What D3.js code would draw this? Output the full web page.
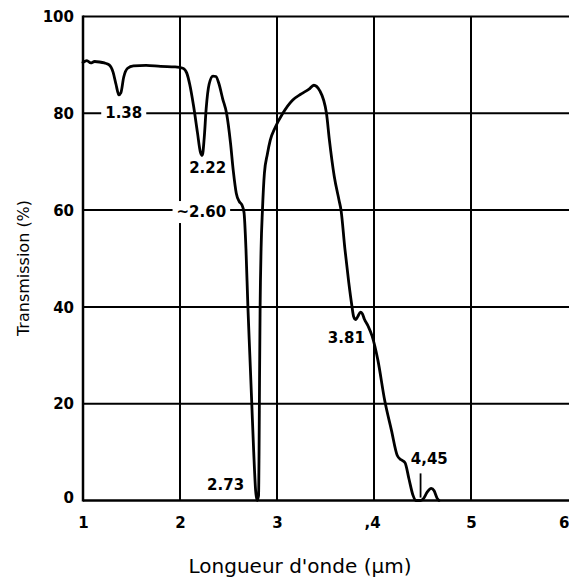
<!DOCTYPE html>
<html>
<head>
<meta charset="utf-8">
<script src="https://cdn.jsdelivr.net/npm/d3@7"></script>
<style>
  html, body { margin: 0; padding: 0; background: #fff; }
  svg { display: block; }
</style>
</head>
<body>
<svg id="chart" width="569" height="587"></svg>
<script>
// ---- data ----
const wavelength = [1.00,1.04,1.08,1.12,1.17,1.22,1.27,1.31,1.34,1.37,1.39,1.42,1.46,1.52,1.65,1.80,1.95,2.03,2.07,2.10,2.14,2.18,2.21,2.23,2.25,2.27,2.30,2.34,2.37,2.40,2.44,2.48,2.52,2.55,2.58,2.61,2.64,2.66,2.68,2.70,2.72,2.74,2.76,2.78,2.795,2.81,2.815,2.82,2.826,2.836,2.85,2.87,2.90,2.93,2.98,3.06,3.16,3.25,3.33,3.38,3.44,3.51,3.54,3.59,3.64,3.66,3.70,3.74,3.77,3.79,3.81,3.83,3.86,3.88,3.90,3.94,3.98,4.04,4.11,4.18,4.24,4.28,4.32,4.36,4.40,4.43,4.48,4.51,4.55,4.59,4.62,4.65,4.67];
const transmission = [90.5,90.9,90.4,90.7,90.6,90.4,90.0,88.5,86.0,83.8,84.2,87.5,89.3,89.8,89.9,89.7,89.6,89.3,88.3,86.0,81.5,76.0,72.0,71.3,75.0,81.0,86.0,87.7,87.6,86.2,83.0,80.0,74.0,68.0,63.5,61.8,61.0,59.5,52.0,40.0,30.0,20.0,10.0,2.0,0.0,1.0,10,25,40,52,60,67.6,71.5,74.4,77.0,80.0,82.7,84.0,85.0,85.8,84.7,80.0,74.5,67.0,62.0,60.0,52.0,45.0,40.5,38.0,37.4,37.9,38.9,38.6,37.5,36.0,34.0,29.0,20.7,14.5,9.3,8.4,7.8,4.5,1.2,0,0,0.4,1.8,2.5,2.0,0.5,0];

const xTicks = [1,2,3,4,5,6];
const xTickLabels = ["1","2","3",",4","5","6"];
const yTicks = [0,20,40,60,80,100];
const yTickLabels = ["0","20","40","60","80","100"];

// peak annotations (label, wavelength position, transmission position)
const annText = ["1.38","2.22","~2.60","2.73","3.81","4,45"];
const annX    = [1.42, 2.285, 2.22, 2.47, 3.715, 4.57];
const annY    = [80, 68.6, 59.6, 3.1, 33.6, 8.5];

const xTitle = "Longueur d'onde (\u00b5m)";
const yTitle = "Transmission (%)";

// ---- drawing ----
const svg = d3.select("#chart");
const x = d3.scaleLinear().domain([1, 6]).range([83, 568]);
const y = d3.scaleLinear().domain([0, 100]).range([500.5, 16.5]);
const FONT = "DejaVu Sans, sans-serif";

// grid
const g = svg.append("g").attr("stroke", "#000").attr("stroke-width", 2);
g.selectAll("line.v").data(xTicks.filter(d => d > 1 && d < 6)).join("line")
  .attr("x1", d => x(d)).attr("x2", d => x(d))
  .attr("y1", y(100)).attr("y2", y(0));
g.selectAll("line.h").data(yTicks.filter(d => d > 0 && d < 100)).join("line")
  .attr("x1", x(1)).attr("x2", 569)
  .attr("y1", d => y(d)).attr("y2", d => y(d));
// frame
g.append("line").attr("x1", x(1)).attr("x2", 569).attr("y1", y(100)).attr("y2", y(100));
g.append("line").attr("x1", x(1)).attr("x2", 569).attr("y1", y(0)).attr("y2", y(0)).attr("stroke-width", 2.5);
g.append("line").attr("x1", x(1)).attr("x2", x(1)).attr("y1", y(100) - 1).attr("y2", y(0) + 1).attr("stroke-width", 2.5);

// annotations with white backing (breaks grid lines like the original)
const ann = svg.append("g").attr("font-family", FONT).attr("font-weight", "bold").attr("font-size", 15);
const annG = ann.selectAll("g").data(annText).join("g");
annG.each(function(t, i) {
  const gg = d3.select(this);
  const txt = gg.append("text")
    .attr("x", x(annX[i])).attr("y", y(annY[i]))
    .attr("text-anchor", "middle").attr("dominant-baseline", "central")
    .text(t);
  const b = txt.node().getBBox();
  gg.insert("rect", "text")
    .attr("x", b.x - 4).attr("y", b.y - 2)
    .attr("width", b.width + 8).attr("height", b.height + 4)
    .attr("fill", "#fff");
});
// small pointer for 4,45
svg.append("line").attr("stroke", "#000").attr("stroke-width", 1.8)
  .attr("x1", x(4.48)).attr("x2", x(4.48)).attr("y1", y(5.6)).attr("y2", y(0.6));

// curve
const line = d3.line().x(d => x(d[0])).y(d => y(d[1])).curve(d3.curveMonotoneX);
svg.append("path")
  .datum(wavelength.map((w, i) => [w, transmission[i]]))
  .attr("fill", "none").attr("stroke", "#000").attr("stroke-width", 2.8)
  .attr("stroke-linejoin", "round").attr("stroke-linecap", "round")
  .attr("d", line);

// axes (labels only)
const xAxis = svg.append("g").attr("transform", `translate(0,${y(0) + 22})`)
  .call(d3.axisBottom(x).tickValues(xTicks).tickSize(0).tickPadding(0)
    .tickFormat((d, i) => xTickLabels[i]));
xAxis.select(".domain").remove();
xAxis.selectAll("text").attr("font-family", FONT).attr("font-weight", "bold")
  .attr("font-size", 15).attr("fill", "#000").attr("dy", "0.35em").attr("y", 0)
  .attr("text-anchor", d => d === 6 ? "end" : "middle")
  .attr("dx", (d, i) => xTickLabels[i].startsWith(",") ? -2 : (d === 6 ? 1 : 0));

const yAxis = svg.append("g").attr("transform", `translate(${x(1) - 9},0)`)
  .call(d3.axisLeft(y).tickValues(yTicks).tickSize(0).tickPadding(0)
    .tickFormat((d, i) => yTickLabels[i]));
yAxis.select(".domain").remove();
yAxis.selectAll("text").attr("font-family", FONT).attr("font-weight", "bold")
  .attr("font-size", 15).attr("fill", "#000")
  .attr("dy", d => d === 0 ? "0.1em" : "0.35em");

// titles
svg.append("text").attr("x", 300).attr("y", 573)
  .attr("text-anchor", "middle").attr("font-family", FONT).attr("font-size", 20)
  .attr("fill", "#000").text(xTitle);
svg.append("text").attr("transform", `translate(29,268) rotate(-90)`)
  .attr("text-anchor", "middle").attr("font-family", FONT).attr("font-size", 16)
  .attr("fill", "#000").text(yTitle);
</script>
</body>
</html>
